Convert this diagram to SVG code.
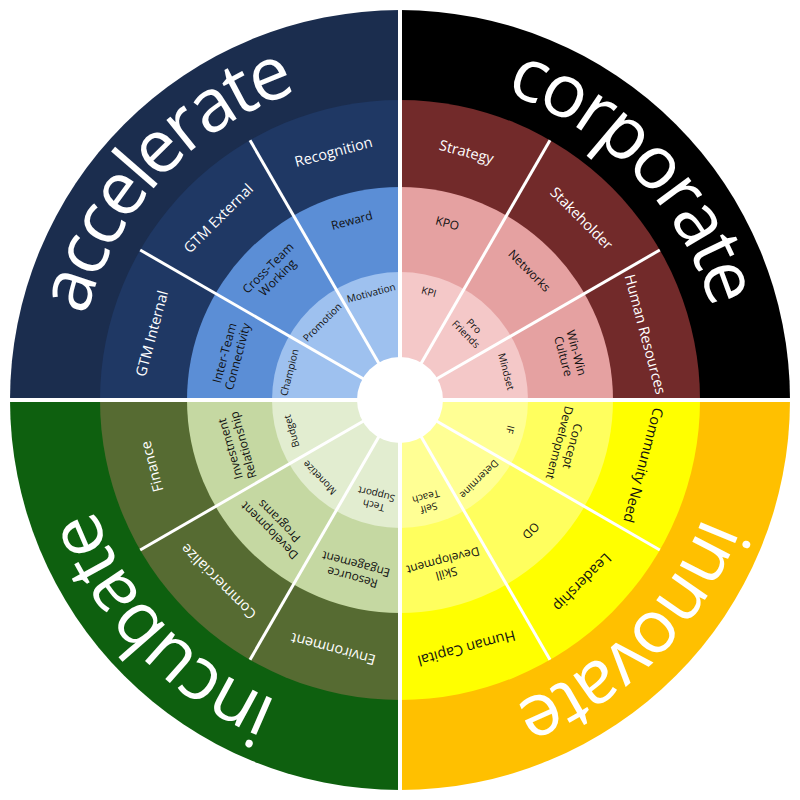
<svg xmlns="http://www.w3.org/2000/svg" width="800" height="800" viewBox="0 0 800 800">
<style>
.big{font-family:"Open Sans","Noto Sans",sans-serif;font-size:74px;fill:#fff;letter-spacing:-3.5px}
.l3{font-family:"Open Sans","Noto Sans",sans-serif;font-size:14.5px;text-anchor:middle}
.l2{font-family:"Open Sans","Noto Sans",sans-serif;font-size:12px;text-anchor:middle;fill:#111}
.l1{font-family:"Open Sans","Noto Sans",sans-serif;font-size:10px;text-anchor:middle;fill:#111}
.w{fill:#fff}
.k{fill:#111}
.div{stroke:#fff;stroke-width:3}
.quad{stroke:#fff;stroke-width:4}
</style>
<defs>
<path id="pAcc" d="M140.5,595.6 A325,325 0 0 1 577.0,127.4"/>
<path id="pCor" d="M218.3,130.6 A325,325 0 0 1 662.9,591.0"/>
<path id="pInn" d="M666.2,213.6 A325,325 0 0 1 213.6,666.2"/>
<path id="pInc" d="M581.7,669.4 A325,325 0 0 1 137.1,208.9"/>
</defs>
<rect width="800" height="800" fill="#fff"/>

<g id="accelerate">
<path d="M400,400 L10,400 A390,390 0 0 1 400,10 Z" fill="#1b2d4e"/>
<path d="M400,400 L100,400 A300,300 0 0 1 400,100 Z" fill="#1f3864"/>
<path d="M400,400 L187,400 A213,213 0 0 1 400,187 Z" fill="#5b8ed6"/>
<path d="M400,400 L272,400 A128,128 0 0 1 400,272 Z" fill="#9ec1ef"/>
<text class="big"><textPath href="#pAcc" startOffset="50%" text-anchor="middle">accelerate</textPath></text>
</g>
<g id="corporate">
<path d="M400,400 L400,10 A390,390 0 0 1 790,400 Z" fill="#000"/>
<path d="M400,400 L400,100 A300,300 0 0 1 700,400 Z" fill="#722a2a"/>
<path d="M400,400 L400,187 A213,213 0 0 1 613,400 Z" fill="#e5a1a1"/>
<path d="M400,400 L400,272 A128,128 0 0 1 528,400 Z" fill="#f4c8c8"/>
<text class="big"><textPath href="#pCor" startOffset="50%" text-anchor="middle">corporate</textPath></text>
</g>
<g id="innovate">
<path d="M400,400 L790,400 A390,390 0 0 1 400,790 Z" fill="#ffc000"/>
<path d="M400,400 L700,400 A300,300 0 0 1 400,700 Z" fill="#ffff00"/>
<path d="M400,400 L613,400 A213,213 0 0 1 400,613 Z" fill="#ffff5e"/>
<path d="M400,400 L528,400 A128,128 0 0 1 400,528 Z" fill="#ffff94"/>
<text class="big"><textPath href="#pInn" startOffset="50%" text-anchor="middle">innovate</textPath></text>
</g>
<g id="incubate">
<path d="M400,400 L400,790 A390,390 0 0 1 10,400 Z" fill="#0e600f"/>
<path d="M400,400 L400,700 A300,300 0 0 1 100,400 Z" fill="#566b32"/>
<path d="M400,400 L400,613 A213,213 0 0 1 187,400 Z" fill="#c5d8a2"/>
<path d="M400,400 L400,528 A128,128 0 0 1 272,400 Z" fill="#e2edd0"/>
<text class="big"><textPath href="#pInc" startOffset="50%" text-anchor="middle">incubate</textPath></text>
</g>

<g id="connectors">
<line class="div" x1="400" y1="400" x2="659.8" y2="550"/>
<line class="div" x1="400" y1="400" x2="550" y2="659.8"/>
<line class="div" x1="400" y1="400" x2="250" y2="659.8"/>
<line class="div" x1="400" y1="400" x2="140.2" y2="550"/>
<line class="div" x1="400" y1="400" x2="140.2" y2="250"/>
<line class="div" x1="400" y1="400" x2="250" y2="140.2"/>
<line class="div" x1="400" y1="400" x2="550" y2="140.2"/>
<line class="div" x1="400" y1="400" x2="659.8" y2="250"/>
<line class="quad" x1="400" y1="0" x2="400" y2="800"/>
<line class="quad" x1="0" y1="400" x2="800" y2="400"/>
</g>
<circle id="hub" cx="400" cy="400" r="43" fill="#fff"/>

<!-- accelerate labels -->
<g id="gtm-internal"><text class="l3 w" x="400" y="148.2" transform="rotate(285 400 400)">GTM Internal</text></g>
<g id="gtm-external"><text class="l3 w" x="400" y="148.2" transform="rotate(315 400 400)">GTM External</text></g>
<g id="recognition"><text class="l3 w" x="400" y="148.2" transform="rotate(345 400 400)">Recognition</text></g>
<g id="inter-team"><text class="l2" transform="rotate(285 400 400)"><tspan x="400" y="222.55">Inter-Team</tspan><tspan x="400" y="236.05">Connectivity</tspan></text></g>
<g id="cross-team"><text class="l2" transform="rotate(315 400 400)"><tspan x="400" y="217.55">Cross-Team</tspan><tspan x="400" y="231.05">Working</tspan></text></g>
<g id="reward"><text class="l2" x="400" y="218.3" transform="rotate(345 400 400)">Reward</text></g>
<g id="champion"><text class="l1" x="400" y="289.6" transform="rotate(284 400 400)">Champion</text></g>
<g id="promotion"><text class="l1" x="400" y="293.6" transform="rotate(315 400 400)">Promotion</text></g>
<g id="motivation"><text class="l1" x="400" y="292.6" transform="rotate(345 400 400)">Motivation</text></g>

<!-- corporate labels -->
<g id="strategy"><text class="l3 w" x="400" y="148.2" transform="rotate(15 400 400)">Strategy</text></g>
<g id="stakeholder"><text class="l3 w" x="400" y="148.2" transform="rotate(45 400 400)">Stakeholder</text></g>
<g id="human-resources"><text class="l3 w" x="400" y="151.2" transform="rotate(75 400 400)">Human Resources</text></g>
<g id="kpo"><text class="l2" x="400" y="221.3" transform="rotate(15 400 400)">KPO</text></g>
<g id="networks"><text class="l2" x="400" y="221.3" transform="rotate(45 400 400)">Networks</text></g>
<g id="win-win"><text class="l2" transform="rotate(75 400 400)"><tspan x="400" y="221.55">Win-Win</tspan><tspan x="400" y="235.05">Culture</tspan></text></g>
<g id="kpi"><text class="l1" x="400" y="291.6" transform="rotate(15 400 400)">KPI</text></g>
<g id="pro-friends"><text class="l1" transform="rotate(45 400 400)"><tspan x="400" y="298.85">Pro</tspan><tspan x="400" y="310.35">Friends</tspan></text></g>
<g id="mindset"><text class="l1" x="400" y="293.6" transform="rotate(75 400 400)">Mindset</text></g>

<!-- innovate labels -->
<g id="community-need"><text class="l3 k" x="400" y="153.2" transform="rotate(105 400 400)">Community Need</text></g>
<g id="leadership"><text class="l3 k" x="400" y="147.2" transform="rotate(135 400 400)">Leadership</text></g>
<g id="human-capital"><text class="l3 k" x="400" y="148.2" transform="rotate(165 400 400)">Human Capital</text></g>
<g id="concept-development"><text class="l2" transform="rotate(105 400 400)"><tspan x="400" y="225.55">Concept</tspan><tspan x="400" y="239.05">Development</tspan></text></g>
<g id="od"><text class="l2" x="400" y="219.3" transform="rotate(135 400 400)">OD</text></g>
<g id="skill-development"><text class="l2" transform="rotate(165 400 400)"><tspan x="400" y="224.55">Skill</tspan><tspan x="400" y="238.05">Development</tspan></text></g>
<g id="if"><text class="l1" x="400" y="289.6" transform="rotate(105 400 400)">IF</text></g>
<g id="determine"><text class="l1" x="400" y="291.6" transform="rotate(135 400 400)">Determine</text></g>
<g id="self-teach"><text class="l1" transform="rotate(165 400 400)"><tspan x="400" y="291.85">Self</tspan><tspan x="400" y="303.35">Teach</tspan></text></g>

<!-- incubate labels -->
<g id="finance"><text class="l3 w" x="400" y="148.2" transform="rotate(255 400 400)">Finance</text></g>
<g id="commercialize"><text class="l3 w" x="400" y="148.2" transform="rotate(225 400 400)">Commercialize</text></g>
<g id="environment"><text class="l3 w" x="400" y="147.2" transform="rotate(195 400 400)">Environment</text></g>
<g id="investment"><text class="l2" transform="rotate(254 400 400)"><tspan x="400" y="227.55">Investment</tspan><tspan x="400" y="241.05">Relationship</tspan></text></g>
<g id="development-programs"><text class="l2" transform="rotate(225 400 400)"><tspan x="400" y="219.55">Development</tspan><tspan x="400" y="233.05">Programs</tspan></text></g>
<g id="resource-engagement"><text class="l2" transform="rotate(195 400 400)"><tspan x="400" y="220.55">Resource</tspan><tspan x="400" y="234.05">Engagement</tspan></text></g>
<g id="budget"><text class="l1" x="400" y="290.6" transform="rotate(254 400 400)">Budget</text></g>
<g id="monetize"><text class="l1" x="400" y="291.6" transform="rotate(226 400 400)">Monetize</text></g>
<g id="tech-support"><text class="l1" transform="rotate(194 400 400)"><tspan x="400" y="294.85">Tech</tspan><tspan x="400" y="306.35">Support</tspan></text></g>
</svg>
